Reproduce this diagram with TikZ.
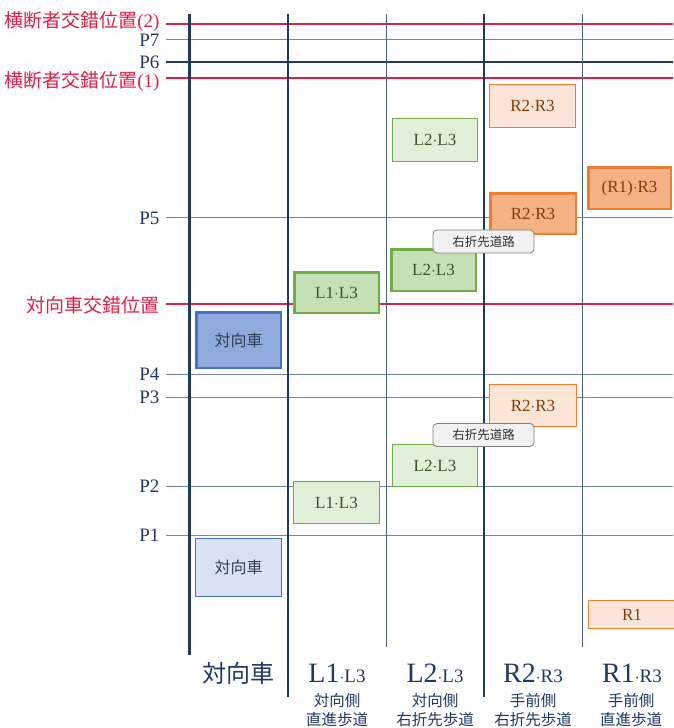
\documentclass[tikz,border=0pt]{standalone}
\usepackage{fontspec}
\setmainfont{Liberation Serif}
\newfontfamily\jp{Noto Sans CJK JP}
\definecolor{navy}{HTML}{1F3864}
\definecolor{redl}{HTML}{E11E46}
\definecolor{thinl}{HTML}{7384A8}
\definecolor{bfill}{HTML}{8FAADC}
\definecolor{bfilll}{HTML}{DAE3F3}
\definecolor{bdraw}{HTML}{4472C4}
\definecolor{gfill}{HTML}{C5E0B4}
\definecolor{gfilll}{HTML}{E2F0D9}
\definecolor{gdraw}{HTML}{70AD47}
\definecolor{ofill}{HTML}{F4B183}
\definecolor{ofilll}{HTML}{FBE5D6}
\definecolor{odraw}{HTML}{ED7D31}
\definecolor{gtext}{HTML}{38562A}
\definecolor{otext}{HTML}{843C0C}
\definecolor{btext}{HTML}{333F50}
\tikzset{
  boxbase/.style={inner sep=0pt, rectangle},
  bdark/.style={boxbase, fill=bfill, draw=bdraw, line width=2.5pt, text=btext, font=\jp\fontsize{16}{18}\selectfont},
  blight/.style={boxbase, fill=bfilll, draw=bdraw, line width=1pt, text=btext, font=\jp\fontsize{16}{18}\selectfont},
  gdark/.style={boxbase, fill=gfill, draw=gdraw, line width=2.5pt, text=gtext, font=\fontsize{17}{18}\selectfont},
  glight/.style={boxbase, fill=gfilll, draw=gdraw, line width=1pt, text=gtext, font=\fontsize{17}{18}\selectfont},
  odark/.style={boxbase, fill=ofill, draw=odraw, line width=2.5pt, text=otext, font=\fontsize{17}{18}\selectfont},
  olight/.style={boxbase, fill=ofilll, draw=odraw, line width=1pt, text=otext, font=\fontsize{17}{18}\selectfont},
  callout/.style={rectangle, rounded corners=4pt, fill=black!5, draw=black!50, line width=0.8pt, inner sep=0pt, minimum width=101pt, minimum height=23pt, font=\jp\fontsize{12.5}{14}\selectfont, text=black!80},
  redlab/.style={anchor=east, text=redl, font=\fontsize{19}{20}\selectfont},
  plab/.style={anchor=east, text=navy, font=\fontsize{19}{20}\selectfont},
  redline/.style={draw=redl, line width=2.5pt},
  thinline/.style={draw=thinl, line width=1pt},
  thickh/.style={draw=navy, line width=2.5pt},
  vthick/.style={draw=navy, line width=3pt},
  vmid/.style={draw=navy, line width=2pt},
  vthin/.style={draw=navy!80, line width=1pt},
  colhead/.style={text=navy, font=\fontsize{28}{30}\selectfont},
  colsub/.style={text=navy, font=\jp\fontsize{15.5}{19}\selectfont, align=center},
}
\begin{document}
\begin{tikzpicture}[x=1pt,y=-1pt]
\useasboundingbox (0,0) rectangle (673,728);
% horizontal lines
\draw[redline] (166,24) -- (673,24);
\draw[thinline] (166,39) -- (673,39);
\draw[thickh] (166,62) -- (673,62);
\draw[redline] (166,78) -- (673,78);
\draw[thinline] (166,217) -- (673,217);
\draw[redline] (166,304) -- (673,304);
\draw[thinline] (166,374) -- (673,374);
\draw[thinline] (166,397) -- (673,397);
\draw[thinline] (166,486) -- (673,486);
\draw[thinline] (166,535) -- (673,535);
% vertical lines
\draw[vthick] (189,14) -- (189,655);
\draw[vmid] (288,14) -- (288,697);
\draw[vthin] (386,14) -- (386,647);
\draw[vmid] (484,14) -- (484,697);
\draw[vthin] (582,14) -- (582,647);
% left labels
\node[redlab] (c2) at (163,22) {{\jp 横断者交錯位置}(2)};
\node[plab] (p7) at (163,40) {P7};
\node[plab] (p6) at (163,62) {P6};
\node[redlab] (c1) at (163,82) {{\jp 横断者交錯位置}(1)};
\node[plab] (p5) at (163,218) {P5};
\node[redlab] (tc) at (163,305) {\jp 対向車交錯位置};
\node[plab] (p4) at (163,374) {P4};
\node[plab] (p3) at (163,397) {P3};
\node[plab] (p2) at (163,486) {P2};
\node[plab] (p1) at (163,535) {P1};
% boxes
\node[bdark, minimum width=84.5pt, minimum height=55.5pt] (tk1) at (238.5,340) {対向車};
\node[blight, minimum width=86pt, minimum height=58pt] (tk2) at (238.5,567.5) {対向車};
\node[gdark, minimum width=84.5pt, minimum height=40.5pt] (l1d) at (336.5,292.5) {L1$\cdot$L3};
\node[glight, minimum width=86pt, minimum height=42pt] (l1l) at (336.5,502.5) {L1$\cdot$L3};
\node[gdark, minimum width=84.5pt, minimum height=41.5pt] (l2d) at (433.5,270) {L2$\cdot$L3};
\node[glight, minimum width=85pt, minimum height=42pt] (l2l) at (435,465.5) {L2$\cdot$L3};
\node[glight, minimum width=85pt, minimum height=43pt] (l2t) at (435,140) {L2$\cdot$L3};
\node[olight, minimum width=86pt, minimum height=43pt] (r2t) at (532.5,106) {R2$\cdot$R3};
\node[odark, minimum width=85.5pt, minimum height=40.5pt] (r2d) at (533,213.5) {R2$\cdot$R3};
\node[odark, minimum width=82.5pt, minimum height=41.5pt] (r1d) at (629.5,188) {(R1)$\cdot$R3};
\node[olight, minimum width=87pt, minimum height=42pt] (r2l) at (533,405.5) {R2$\cdot$R3};
\node[olight, minimum width=88pt, minimum height=28pt] (r1l) at (632,614.5) {R1};
% callouts
\node[callout] (u1) at (483.5,241.5) {右折先道路};
\node[callout] (u2) at (483.5,435) {右折先道路};
% bottom headings
\node[colhead, font=\jp\fontsize{24}{26}\selectfont] (h0) at (238,673) {対向車};
\node[colhead] (h1) at (337,673) {L1{\fontsize{19}{20}\selectfont$\cdot$L3}};
\node[colhead] (h2) at (435,673) {L2{\fontsize{19}{20}\selectfont$\cdot$L3}};
\node[colhead] (h3) at (533,673) {R2{\fontsize{19}{20}\selectfont$\cdot$R3}};
\node[colhead] (h4) at (632,673) {R1{\fontsize{19}{20}\selectfont$\cdot$R3}};
\node[colsub] (s1) at (337,710) {対向側\\直進歩道};
\node[colsub] (s2) at (435,710) {対向側\\右折先歩道};
\node[colsub] (s3) at (533,710) {手前側\\右折先歩道};
\node[colsub] (s4) at (631,710) {手前側\\直進歩道};
\end{tikzpicture}
\end{document}
